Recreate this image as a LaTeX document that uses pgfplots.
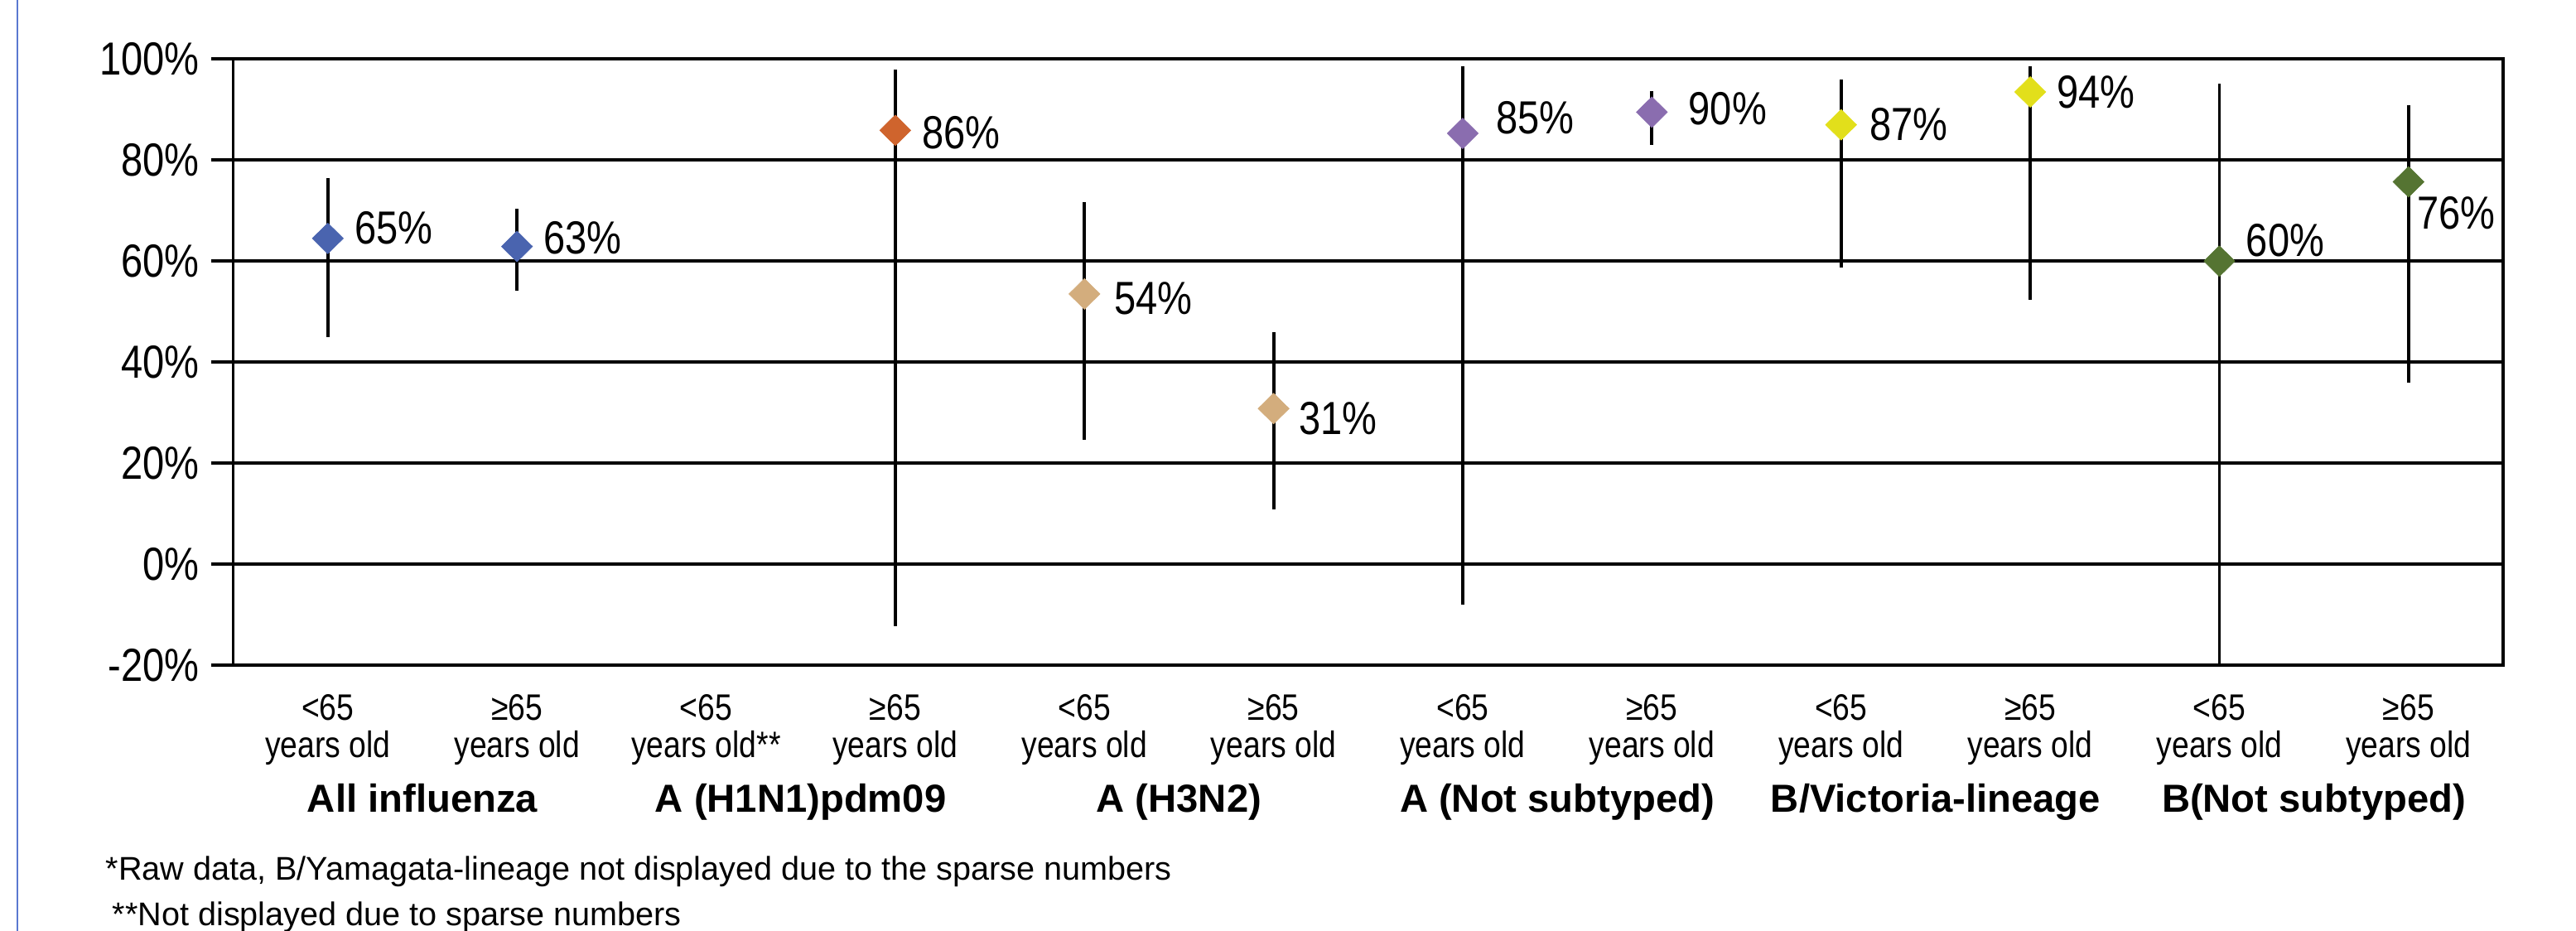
\documentclass[border=0pt]{standalone}
\usepackage{pgfplots}
\pgfplotsset{compat=1.18}
\usepackage{pgfplotstable}
\usepackage{fontspec}
\setmainfont{Liberation Sans}
\newfontfamily\narrow[FakeStretch=0.84]{Liberation Sans}

\definecolor{cBlue}{HTML}{4A64AF}
\definecolor{cOrange}{HTML}{CF642D}
\definecolor{cTan}{HTML}{D3AD7D}
\definecolor{cPurple}{HTML}{8A6DAF}
\definecolor{cYellow}{HTML}{E2DF1B}
\definecolor{cGreen}{HTML}{557432}
\definecolor{cEdge}{HTML}{5A78D0}

% x  estimate  lower  upper  label  label-dx(pt)  label-dy(pt)
\pgfplotstableread{
x y lo hi lab dx dy
0 64.5 45.0 76.4 65 8 3.2
1 62.9 54.1 70.4 63 8 2.7
}\tAll
\pgfplotstableread{
x y lo hi lab dx dy
3 85.9 -12.3 98.0 86 8 -0.8
}\tHone
\pgfplotstableread{
x y lo hi lab dx dy
4 53.5 24.6 71.7 54 9 -1.3
5 30.8 10.9 46.0 31 7.5 -3
}\tHthree
\pgfplotstableread{
x y lo hi lab dx dy
6 85.3 -8.1 98.6 85 10 4.7
7 89.5 83.0 93.7 90 11 1
}\tAnot
\pgfplotstableread{
x y lo hi lab dx dy
8 87.0 58.7 95.9 87 8.5 0
9 93.5 52.4 98.6 94 8 0
}\tBvic
\pgfplotstableread{
x y lo hi lab dx dy
10 60.0 -20 95.2 60 8 6.3
11 75.7 35.9 90.9 76 2.5 -9.4
}\tBnot

\pgfplotsset{
  ci/.style={
    only marks, mark=diamond*, mark size=4.6pt,
    mark options={solid, xscale=1.35, draw=#1, fill=#1, line width=0.2pt},
    error bars/.cd, y dir=both, y explicit, error mark=none,
    error bar style={black, line width=0.95pt},
    /pgfplots/.cd,
    point meta=explicit symbolic,
    visualization depends on={\thisrow{dx} \as \ldx},
    visualization depends on={\thisrow{dy} \as \ldy},
    nodes near coords={\pgfplotspointmeta\%},
    every node near coord/.style={anchor=west, inner sep=0pt, text=black,
      font=\narrow\fontsize{14}{16}\selectfont, xshift=\ldx pt, yshift=\ldy pt},
  },
}

\newcommand{\ciplot}[2]{%
  \addplot[ci=#2] table[x=x, y=y, meta=lab,
    y error plus expr=\thisrow{hi}-\thisrow{y},
    y error minus expr=\thisrow{y}-\thisrow{lo}] {#1};
}

\begin{document}
\begin{tikzpicture}
\useasboundingbox (0,0) rectangle (777.5pt,281pt);
\draw[cEdge, line width=0.4pt] (5.3pt,0) -- (5.3pt,281pt);
\begin{axis}[
  at={(70.4pt,80.25pt)}, anchor=south west,
  scale only axis, width=685.1pt, height=182.9pt,
  xmin=-0.5, xmax=11.5, ymin=-20, ymax=100,
  ytick={-20,0,20,40,60,80,100},
  yticklabel={\pgfmathprintnumber{\tick}\%},
  /pgf/number format/assume math mode=true,
  ymajorgrids,
  grid style={black, line width=0.95pt},
  axis line style={black, line width=0.95pt},
  ytick pos=left,
  tick align=outside,
  major tick length=6.7pt,
  ytick style={black, line width=0.95pt},
  xtick={0,...,11},
  xtick style={draw=none},
  xticklabels={{<65\\years old},{≥65\\years old},{<65\\years old**},{≥65\\years old},
               {<65\\years old},{≥65\\years old},{<65\\years old},{≥65\\years old},
               {<65\\years old},{≥65\\years old},{<65\\years old},{≥65\\years old}},
  xticklabel style={align=center, anchor=north, inner sep=0pt, yshift=-2.0pt,
    font=\narrow\fontsize{11.1}{11.2}\selectfont},
  yticklabel style={anchor=east, inner sep=0pt, xshift=-3.3pt,
    font=\narrow\fontsize{14}{16}\selectfont},
  extra x ticks={0.5,2.5,4.5,6.5,8.5,10.5},
  extra x tick labels={All influenza, A (H1N1)pdm09, A (H3N2), A (Not subtyped), B/Victoria-lineage, B(Not subtyped)},
  extra x tick style={grid=none, tick style={draw=none},
    xticklabel style={anchor=north, yshift=-27.0pt, inner sep=0pt,
      text height=8.4pt, text depth=2.6pt,
      font=\bfseries\fontsize{11.8}{13}\selectfont}},
  clip=true,
]
\ciplot{\tAll}{cBlue}
\ciplot{\tHone}{cOrange}
\ciplot{\tHthree}{cTan}
\ciplot{\tAnot}{cPurple}
\ciplot{\tBvic}{cYellow}
\ciplot{\tBnot}{cGreen}
\end{axis}
\node[anchor=base west, inner sep=0pt, font=\fontsize{9.9}{12}\selectfont] at (31.75pt,15.25pt)
  {*Raw data, B/Yamagata-lineage not displayed due to the sparse numbers};
\node[anchor=base west, inner sep=0pt, font=\fontsize{9.9}{12}\selectfont] at (33.75pt,1.6pt)
  {**Not displayed due to sparse numbers};
\end{tikzpicture}
\end{document}
